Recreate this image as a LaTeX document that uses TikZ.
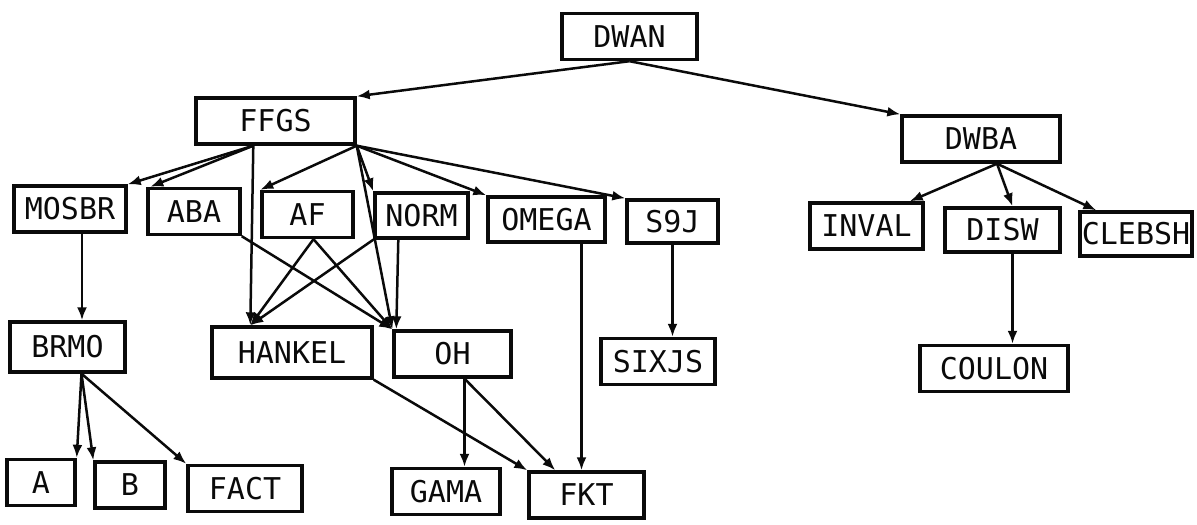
\documentclass[tikz,border=0pt]{standalone}
\usepackage{fontspec}
\setmonofont{DejaVu Sans Mono}
\usepackage{tikz}
\usetikzlibrary{arrows.meta,calc,positioning}
\definecolor{inkcolor}{RGB}{10,10,10}

\begin{document}
\begin{tikzpicture}[
        x=0.5pt, y=-0.5pt,
        box/.style={draw=inkcolor, line width=1.7pt, inner sep=0pt, minimum height=23pt,
            font=\ttfamily\fontsize{15}{18}\selectfont, text=inkcolor},
        arr/.style={-{Latex[length=6.5pt,width=5pt]}, line width=1.25pt, draw=inkcolor}
    ]
        \useasboundingbox (0,0) rectangle (1197,524);

        % top levels
        \node[box, minimum width=67.5pt] (dwan) at (629.5,36.5) {DWAN};
        \node[box, minimum width=79.5pt] (ffgs) at (275.5,121) {FFGS};
        \node[box, minimum width=79pt] (dwba) at (981,139) {DWBA};

        \node[box, minimum width=56pt] (mosbr) at (70,209) {MOSBR};
        \node[box, minimum width=46pt] (aba) at (194,211.5) {ABA};
        \node[box, minimum width=45.5pt] (af) at (307.5,214.5) {AF};
        \node[box, minimum width=46.5pt, minimum height=22.5pt] (norm) at (421.5,215.5) {NORM};
        \node[box, minimum width=58.5pt, minimum height=22.5pt] (omega) at (546.5,219.5) {OMEGA};
        \node[box, minimum width=45.5pt, minimum height=21.5pt] (s9j) at (672.5,221.5) {S9J};
        \node[box, minimum width=56.5pt] (inval) at (866.5,226) {INVAL};
        \node[box, minimum width=57.5pt, minimum height=22pt] (disw) at (1002.5,230) {DISW};
        \node[box, minimum width=56pt, minimum height=22pt] (clebsh) at (1136,234) {CLEBSH};

        \node[box, minimum width=57.5pt, minimum height=25pt] (brmo) at (67.5,347) {BRMO};
        \node[box, minimum width=80pt, minimum height=25.5pt] (hankel) at (292,352.5) {HANKEL};
        \node[box, minimum width=58.5pt] (oh) at (452.5,354) {OH};
        \node[box, minimum width=57pt] (sixjs) at (658,361.5) {SIXJS};
        \node[box, minimum width=74pt] (coulon) at (994,368.5) {COULON};

        % bottom row
        \node[box, minimum width=34pt] (a) at (41,482.5) {A};
        \node[box, minimum width=35pt] (b) at (130,485) {B};
        \node[box, minimum width=57pt] (fact) at (245,488.5) {FACT};
        \node[box, minimum width=54pt] (gama) at (446,491.5) {GAMA};
        \node[box, minimum width=57.5pt] (fkt) at (586.5,495) {FKT};

        \coordinate (ffgsl) at ([xshift=29.5pt]ffgs.south west);
        \coordinate (hk) at ([xshift=20pt]hankel.north west);

        \draw[arr] (dwan.south) -- (ffgs.north east);
        \draw[arr] (dwan.south) -- (dwba.north west);

        \draw[arr] (ffgsl) -- (mosbr.north east);
        \draw[arr] (ffgsl) -- ([xshift=2pt]aba.north west);
        \draw[arr] (ffgsl) -- (hk);
        \draw[arr] (ffgs.south east) -- (af.north west);
        \draw[arr] (ffgs.south east) -- (norm.north west);
        \draw[arr] (ffgs.south east) -- (oh.north west);
        \draw[arr] (ffgs.south east) -- (omega.north west);
        \draw[arr] (ffgs.south east) -- (s9j.north west);

        \draw[arr] (aba.south east) -- (oh.north west);
        \draw[arr] ([xshift=3pt]af.south) -- (hk);
        \draw[arr] ([xshift=3pt]af.south) -- (oh.north west);
        \draw[arr] (norm.south west) -- (hk);
        \draw[arr] ([xshift=12.5pt]norm.south west) -- ([xshift=2pt]oh.north west);

        \draw[arr] ([xshift=6pt]mosbr.south) -- ([xshift=6pt]mosbr.south |- brmo.north);
        \draw[arr] ([xshift=7pt]brmo.south) -- (a.north east);
        \draw[arr] ([xshift=7pt]brmo.south) -- (b.north west);
        \draw[arr] ([xshift=7pt]brmo.south) -- (fact.north west);

        \draw[arr] (hankel.south east) -- (fkt.north west);
        \draw[arr] ([xshift=6pt]oh.south) -- ([xshift=6pt]oh.south |- gama.north);
        \draw[arr] ([xshift=6pt]oh.south) -- ([xshift=14pt]fkt.north west);
        \draw[arr] ([xshift=17.5pt]omega.south) -- ([xshift=17.5pt]omega.south |- fkt.north);
        \draw[arr] (s9j.south) -- (s9j.south |- sixjs.north);

        \draw[arr] ([xshift=8pt]dwba.south) -- ([xshift=-7.5pt]inval.north east);
        \draw[arr] ([xshift=8pt]dwba.south) -- ([xshift=5pt]disw.north);
        \draw[arr] ([xshift=8pt]dwba.south) -- ([xshift=9pt]clebsh.north west);
        \draw[arr] ([xshift=5pt]disw.south) -- ([xshift=5pt]disw.south |- coulon.north);
    \end{tikzpicture}
\end{document}
